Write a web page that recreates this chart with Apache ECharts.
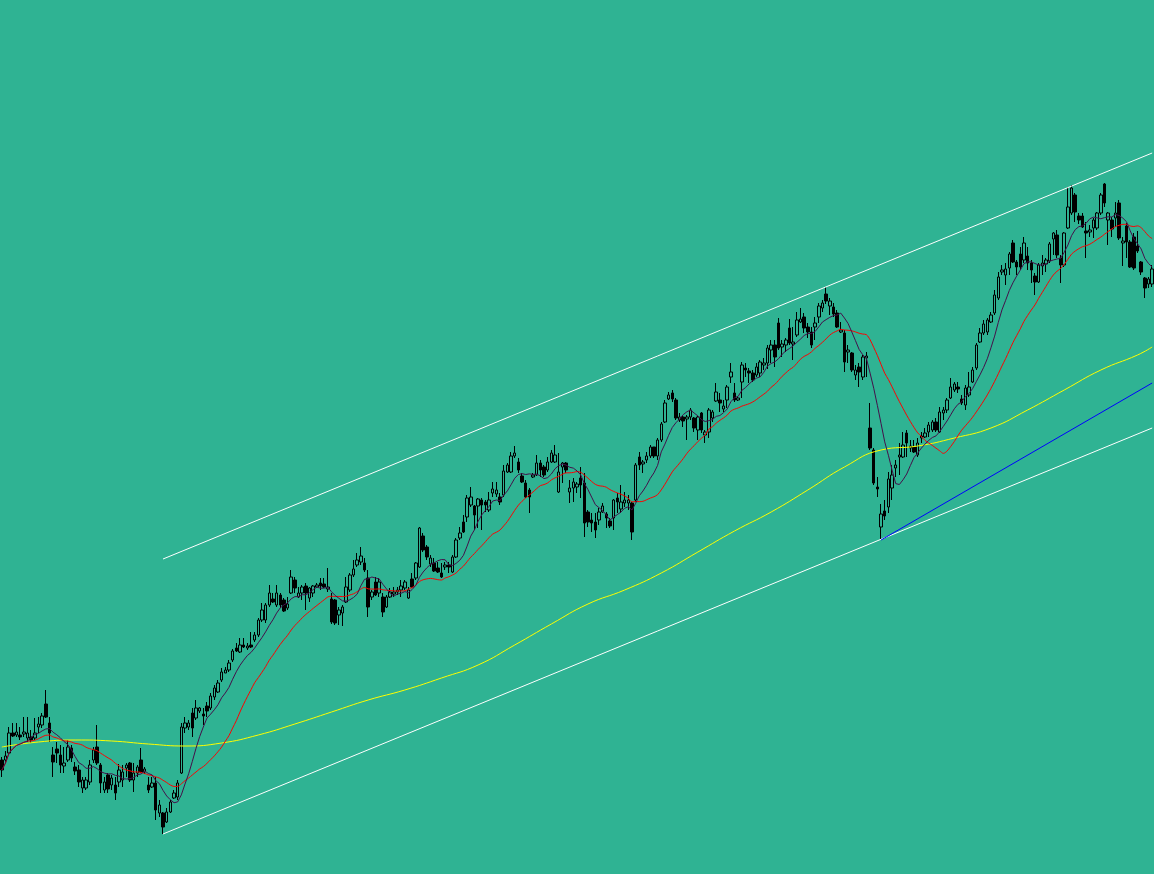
<!DOCTYPE html>
<html><head><meta charset="utf-8">
<script src="https://cdn.jsdelivr.net/npm/echarts@6/dist/echarts.min.js"></script>
<style>html,body{margin:0;padding:0;background:#2fb393;}#c{width:1154px;height:874px;}</style>
</head><body><div id="c"></div>
<script>
const opens = [
240,240,247,267,265,265,266,262,263,262,
273,275,296,277,245,251,245,234,240,252,
233,230,212,212,218,240,253,235,210,225,
215,215,218,220,232,237,220,227,240,228,
215,213,217,187,187,178,188,202,203,227,
272,273,287,282,289,286,294,292,303,308,
320,327,330,340,352,348,355,352,355,360,
365,380,380,395,401,395,405,400,392,407,
420,403,407,414,402,407,413,417,416,411,
401,400,385,387,398,410,425,435,438,437,
422,403,418,407,403,393,403,406,408,410,
412,402,421,422,433,464,453,436,437,432,
427,433,435,428,443,462,478,483,495,494,
494,500,498,490,507,506,503,505,528,528,
544,538,524,517,510,523,525,537,533,530,
538,538,508,533,537,508,512,513,522,517,
488,480,478,480,488,486,479,482,502,491,
497,497,497,500,543,536,540,544,553,544,
560,578,601,607,600,580,583,581,583,582,
570,587,565,568,582,599,600,591,600,623,
607,600,618,632,629,627,625,627,635,637,
650,655,677,653,655,672,656,665,678,683,
673,668,673,683,692,706,694,693,687,668,
667,648,647,625,633,623,642,572,550,513,
473,489,493,512,532,543,543,567,552,553,
545,562,563,568,570,578,568,587,590,602,
610,613,601,595,605,618,632,658,667,668,
678,687,702,728,725,732,757,738,746,740,
744,737,724,718,734,736,739,761,765,742,
735,772,787,805,784,784,769,768,772,772,
787,816,780,780,782,797,757,774,758,763,
754,738,722,716,716];
const closes = [
230,244,267,264,268,263,268,267,260,267,
276,284,283,267,238,247,235,237,253,242,
229,218,220,220,235,250,237,217,218,211,
222,207,230,228,235,220,227,233,228,231,
210,217,190,195,173,188,198,207,217,273,
277,277,272,292,292,284,289,304,312,317,
328,330,337,349,349,355,353,354,353,365,
380,390,395,407,398,407,395,389,396,423,
412,407,413,407,412,414,415,414,413,413,
378,377,390,393,413,425,431,440,444,430,
393,408,405,418,388,403,408,408,410,414,
418,410,413,437,472,450,443,442,429,428,
423,435,433,443,460,467,468,502,503,485,
501,495,495,500,511,510,498,529,535,544,
547,530,518,503,503,525,537,530,525,538,
547,545,528,537,530,512,518,516,515,477,
478,477,470,488,494,482,474,500,498,498,
500,500,468,535,535,538,544,553,544,560,
576,597,605,601,582,583,579,583,590,572,
583,570,568,590,588,608,597,594,613,628,
600,602,635,630,627,620,633,638,637,652,
655,643,652,656,660,657,658,680,681,672,
668,655,677,694,697,699,699,686,673,670,
638,650,630,630,628,643,644,552,517,511,
486,484,521,525,535,545,555,557,554,548,
557,564,567,575,578,570,588,590,600,613,
616,611,597,612,613,630,655,667,676,680,
685,705,723,730,731,746,738,733,733,757,
737,730,718,735,737,740,756,767,745,735,
767,793,812,788,780,773,767,770,780,787,
805,797,787,771,787,762,759,758,733,732,
749,728,712,721,731];
const lows = [
223,237,245,263,263,260,263,258,257,260,
267,272,282,258,223,237,227,227,238,238,
225,213,207,210,215,237,235,207,207,207,
210,200,213,213,223,218,208,223,227,226,
207,212,180,183,166,177,187,201,200,226,
267,270,263,280,287,275,283,290,300,307,
318,327,328,338,348,347,352,350,352,358,
363,378,377,393,397,393,392,388,390,406,
407,402,400,390,398,403,412,410,412,408,
376,375,375,374,397,408,423,433,435,428,
383,400,404,403,383,392,402,403,405,403,
410,401,412,420,432,448,440,433,428,427,
422,430,427,427,442,460,467,478,493,470,
472,470,488,488,503,503,495,503,527,527,
542,527,517,502,487,522,524,523,523,528,
537,537,507,517,527,497,498,507,502,463,
473,468,462,475,487,472,472,470,487,487,
493,490,460,498,530,527,537,542,542,540,
558,577,600,598,580,578,573,560,580,568,
560,567,557,562,578,598,588,588,592,617,
598,599,602,623,617,618,623,623,630,631,
637,633,650,643,648,655,640,663,677,667,
662,652,660,677,688,696,685,683,672,667,
628,637,628,620,613,620,623,550,515,503,
460,480,487,500,523,525,542,543,548,547,
543,557,562,563,568,568,567,580,587,601,
608,607,595,590,603,617,630,657,665,665,
677,685,700,725,715,725,737,725,730,737,
730,717,705,717,725,728,737,745,742,717,
733,771,785,778,776,772,742,763,762,770,
785,793,755,763,773,760,734,742,732,730,
747,725,702,712,713];
const highs = [
243,249,273,277,277,273,283,283,270,282,
283,287,310,283,253,258,255,253,260,255,
238,235,223,223,240,253,275,237,223,227,
225,223,236,235,237,238,237,235,252,233,
223,223,223,200,188,192,200,210,220,277,
283,280,292,300,293,292,298,307,315,320,
332,333,340,351,357,362,362,357,368,368,
382,397,397,415,407,415,407,402,403,430,
423,413,415,417,413,415,417,422,422,432,
407,401,393,395,423,427,440,447,453,442,
430,410,423,422,407,405,412,413,413,420,
420,413,427,438,473,467,455,445,442,438,
437,438,438,445,462,473,485,505,513,495,
502,502,500,508,518,518,507,535,537,548,
554,542,527,520,512,527,545,540,535,543,
550,555,547,538,538,520,522,518,533,527,
490,487,487,492,497,488,482,501,507,515,
508,505,498,537,548,540,548,555,553,562,
578,600,608,610,602,587,585,585,592,583,
584,588,570,592,590,617,607,600,615,637,
617,604,638,637,632,630,637,640,642,655,
660,660,682,660,662,681,673,688,692,687,
677,673,683,697,700,713,702,697,690,678,
670,655,648,635,637,645,648,597,552,523,
496,500,528,535,540,557,568,570,560,560,
562,568,572,578,580,582,593,593,602,622,
618,618,605,615,628,633,657,672,680,682,
688,710,728,735,737,748,760,740,753,763,
753,740,727,737,745,742,758,768,770,745,
768,813,815,807,787,787,778,775,782,788,
807,817,788,783,798,800,763,777,760,767,
769,739,723,723,735];
// long moving average (yellow), read at sampled candles
const longMaIdx = [0,10,20,30,40,50,60,70,80,90,100,110,120,130,140,150,160,170,180,190,200,210,220,230,240,250,260,270,280,290,300,310,314];
const longMaVal = [253,258,260,259,256,254,257,265,276,288,300,310,322,335,355,376,396,410,427,448,469,488,510,533,550,554,562,572,590,610,630,645,653];
// trend lines: [candle index, price]
const upperChannel = [[44,441],[314,847]];
const lowerChannel = [[44,166],[314,572]];
const blueTrend = [[240,460],[314,617]];
const fastPeriod = 8, slowPeriod = 21;

const BG = '#2fb393';
const N = closes.length;
const cats = closes.map((_, i) => String(i));
const candles = closes.map((c, i) => [opens[i], c, lows[i], highs[i]]);
function sma(p) {
  return closes.map((_, i) => {
    const s = Math.max(0, i - p + 1);
    let sum = 0;
    for (let k = s; k <= i; k++) sum += closes[k];
    return +(sum / (i - s + 1)).toFixed(2);
  });
}
const longMa = new Array(N).fill(null);
longMaIdx.forEach((idx, k) => { longMa[idx] = longMaVal[k]; });

function seg(pts, color) {
  return [{ coord: pts[0], lineStyle: { color: color } }, { coord: pts[1] }];
}

const chart = echarts.init(document.getElementById('c'), null, { renderer: 'canvas' });
chart.setOption({
  backgroundColor: BG,
  animation: false,
  grid: { left: 0, right: 0, top: 0, bottom: 0 },
  xAxis: { type: 'category', data: cats, show: false, boundaryGap: true },
  yAxis: { type: 'value', min: 126, max: 1000, show: false, splitLine: { show: false } },
  series: [
    {
      type: 'candlestick', data: candles, barWidth: 3, z: 2,
      itemStyle: { color: BG, color0: '#000000', borderColor: '#000000', borderColor0: '#000000', borderWidth: 1 },
      markLine: {
        silent: true, symbol: ['none', 'none'], label: { show: false },
        lineStyle: { width: 1, type: 'solid' },
        data: [seg(upperChannel, '#ffffff'), seg(lowerChannel, '#ffffff'), seg(blueTrend, '#0000ff')]
      }
    },
    { type: 'line', data: longMa, connectNulls: true, showSymbol: false, symbol: 'none', smooth: true, z: 3,
      lineStyle: { color: '#ffff00', width: 1 } },
    { type: 'line', data: sma(slowPeriod), showSymbol: false, symbol: 'none', smooth: 0.3, z: 4,
      lineStyle: { color: '#ff0000', width: 1 } },
    { type: 'line', data: sma(fastPeriod), showSymbol: false, symbol: 'none', z: 5,
      lineStyle: { color: '#44104a', width: 1 } }
  ]
});
</script>
</body></html>
